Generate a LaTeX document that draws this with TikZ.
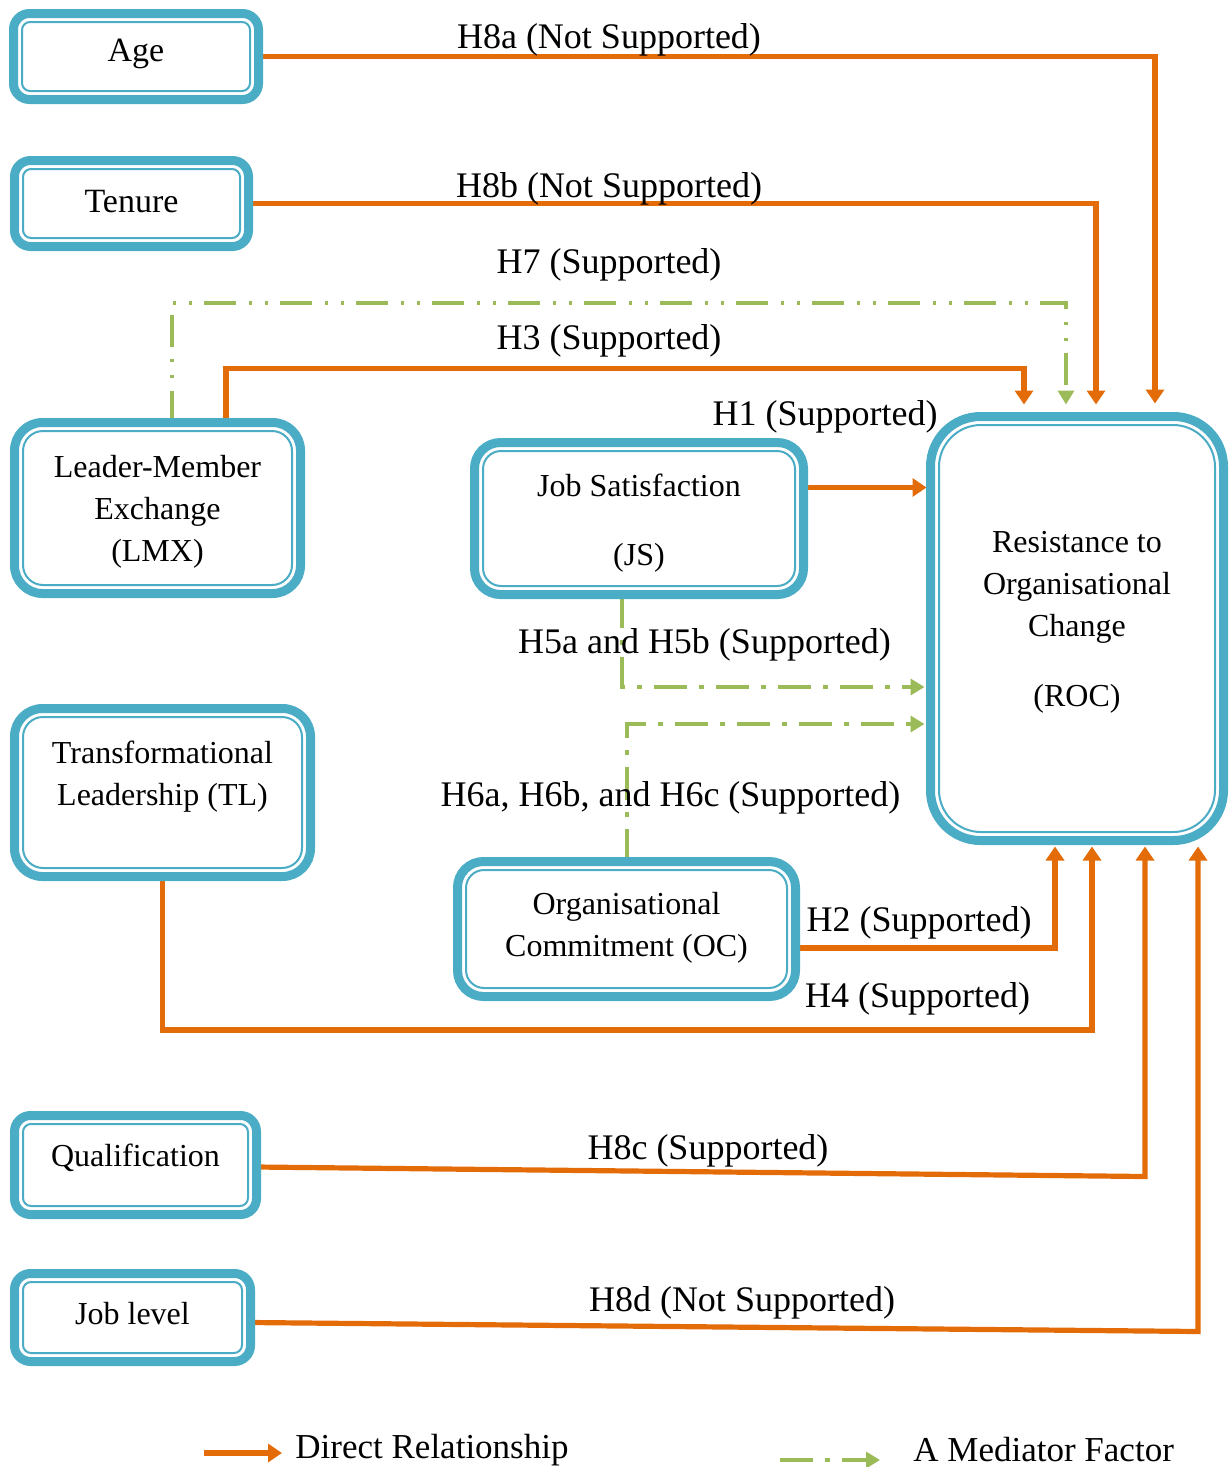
\documentclass[tikz,border=0pt]{standalone}
\usepackage{fontspec}
\setmainfont{Liberation Serif}
\usetikzlibrary{arrows.meta,calc,backgrounds}
\definecolor{frameblue}{HTML}{4BACC6}
\definecolor{linkorange}{HTML}{E36C09}
\definecolor{medgreen}{HTML}{9BBB59}

% thin inner frame line drawn inside a framed box
\newcommand\innerframe[2]{%
  \draw[innerline, rounded corners=#2]
    ([shift={(8.5,8.5)}]#1.north west) rectangle ([shift={(-8.5,-8.5)}]#1.south east);}

\begin{document}
\begin{tikzpicture}[x=0.5pt,y=-0.5pt,
  rbox/.style={draw=frameblue, line width=4.5pt, fill=white, rectangle,
    outer sep=0pt, inner sep=0pt},
  boxtext/.style={align=center, inner sep=0pt, font=\fontsize{16}{21}\selectfont},
  innerline/.style={draw=frameblue, line width=1pt},
  direct/.style={draw=linkorange, line width=2.6pt,
    -{Triangle[length=7pt,width=9pt]}},
  mediator/.style={draw=medgreen, line width=2pt,
    dash pattern=on 16.5pt off 6pt on 2.5pt off 6pt,
    -{Triangle[length=7pt,width=8pt]}},
  medtwo/.style={mediator,
    dash pattern=on 16pt off 6.5pt on 1.5pt off 6.5pt on 1.5pt off 6pt},
  hlabel/.style={font=\fontsize{18}{22}\selectfont, inner sep=0pt},
  legtext/.style={font=\fontsize{17.5}{22}\selectfont, inner sep=0pt, anchor=west},
]
\useasboundingbox (0,0) rectangle (1228,1467);

% ---------- framed boxes ----------
\node[rbox, rounded corners=8pt, minimum width=122.5pt, minimum height=43pt] (age) at (136,56.5) {};
\node[rbox, rounded corners=8pt, minimum width=117pt, minimum height=43pt] (tenure) at (131.5,203.5) {};
\node[rbox, rounded corners=14pt, minimum width=143pt, minimum height=85.5pt] (lmx) at (157.5,508) {};
\node[rbox, rounded corners=14pt, minimum width=148pt, minimum height=84pt] (tl) at (162.5,792.5) {};
\node[rbox, rounded corners=13pt, minimum width=164.5pt, minimum height=76pt] (js) at (639,518.5) {};
\node[rbox, rounded corners=13pt, minimum width=169pt, minimum height=67.5pt] (oc) at (626.5,929) {};
\node[rbox, rounded corners=25pt, minimum width=146.5pt, minimum height=212pt] (roc) at (1077,628.5) {};
\node[rbox, rounded corners=8pt, minimum width=121pt, minimum height=49.5pt] (qual) at (135.5,1165) {};
\node[rbox, rounded corners=8pt, minimum width=118pt, minimum height=44pt] (joblevel) at (132.5,1317.5) {};

\innerframe{age}{4pt}
\innerframe{tenure}{4pt}
\innerframe{lmx}{10pt}
\innerframe{tl}{10pt}
\innerframe{js}{9pt}
\innerframe{oc}{9pt}
\innerframe{roc}{21pt}
\innerframe{qual}{4pt}
\innerframe{joblevel}{4pt}

% ---------- box texts ----------
\node[boxtext, font=\fontsize{17}{21}\selectfont] (agetext) at (136,54) {Age};
\node[boxtext, font=\fontsize{17}{21}\selectfont] (tenuretext) at (131.5,201.5) {Tenure};
\node[boxtext] (lmxtext) at (157.5,511.5) {Leader-Member\\Exchange\\(LMX)};
\node[boxtext] (tltext) at (162.5,776.5) {Transformational\\Leadership (TL)};
\node[boxtext] (jstext) at (639,523.5) {Job Satisfaction\\[13.5pt](JS)};
\node[boxtext] (octext) at (626.5,928) {Organisational\\Commitment (OC)};
\node[boxtext] (roctext) at (1077,622) {Resistance to\\Organisational\\Change\\[14pt](ROC)};
\node[boxtext] (qualtext) at (135.5,1158) {Qualification};
\node[boxtext] (jobleveltext) at (132.5,1314) {Job level};

% ---------- connectors, kept behind the boxes ----------
\begin{pgfonlayer}{background}
\draw[direct, shorten >=6.5pt] (age.east) -| ($(roc.north)+(78,0)$);
\draw[direct, shorten >=6pt] (tenure.east) -| ($(roc.north)+(19,0)$);
\draw[medtwo, shorten >=6pt] ($(lmx.north)+(14.5,0)$) -- ++(0,-120)
  -| ($(roc.north)+(-11,0)$);
\draw[direct, shorten >=6pt] ($(lmx.north)+(68.5,0)$) -- ++(0,-54)
  -| ($(roc.north)+(-53,0)$);
\draw[direct, shorten >=2pt] ($(js.east)+(0,-31)$) coordinate (h1s)
  -- (h1s -| roc.west);
\draw[mediator, shorten >=3pt] ($(js.south)+(-17,0)$) |- ($(roc.west)+(0,58.5)$);
\draw[mediator, shorten >=3pt] (oc.north) |- ($(roc.west)+(0,95.5)$);
\draw[direct, shorten >=3pt] ($(oc.east)+(0,19)$) -| ($(roc.south)+(-22,0)$);
\draw[direct, shorten >=3pt] (tl.south) -- ++(0,153.5) -| ($(roc.south)+(15,0)$);
\draw[direct, shorten >=3pt] ($(qual.east)+(0,2)$) -- ($(roc.south)+(68,336)$)
  -- ($(roc.south)+(68,0)$);
\draw[direct, shorten >=3pt] ($(joblevel.east)+(0,5)$) -- ($(roc.south)+(121,491)$)
  -- ($(roc.south)+(121,0)$);
\end{pgfonlayer}

% ---------- hypothesis labels ----------
\node[hlabel] (l8a) at (609,40) {H8a (Not Supported)};
\node[hlabel] (l8b) at (609,189) {H8b (Not Supported)};
\node[hlabel] (l7) at (609,265) {H7 (Supported)};
\node[hlabel] (l3) at (609,341) {H3 (Supported)};
\node[hlabel] (l1) at (825,417) {H1 (Supported)};
\node[hlabel] (l5) at (704.5,645) {H5a and H5b (Supported)};
\node[hlabel] (l6) at (670.5,798) {H6a, H6b, and H6c (Supported)};
\node[hlabel] (l2) at (919,923) {H2 (Supported)};
\node[hlabel] (l4) at (917.5,999) {H4 (Supported)};
\node[hlabel] (l8c) at (708,1151) {H8c (Supported)};
\node[hlabel] (l8d) at (742,1303) {H8d (Not Supported)};

% ---------- legend ----------
\coordinate (legDa) at (204,1453);
\coordinate (legDb) at (282,1453);
\draw[direct] (legDa) -- (legDb);
\node[legtext] (legDtext) at (295,1450) {Direct Relationship};
\coordinate (legMa) at (780,1460);
\coordinate (legMb) at (880,1460);
\draw[mediator] (legMa) -- (legMb);
\node[legtext] (legMtext) at (913,1450) {A Mediator Factor};
\end{tikzpicture}
\end{document}
